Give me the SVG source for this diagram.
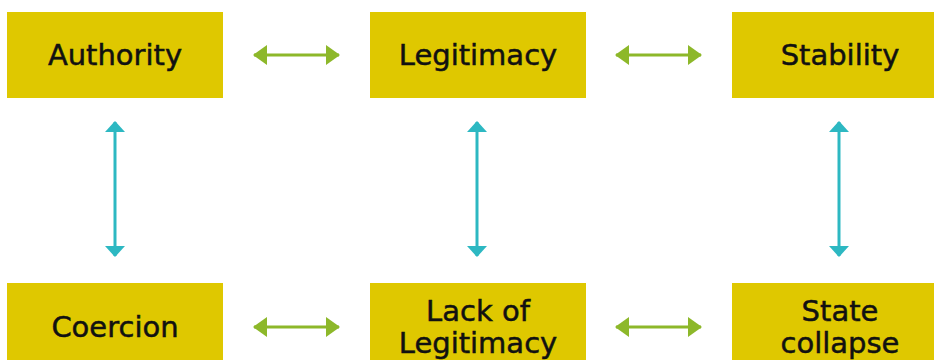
<svg xmlns="http://www.w3.org/2000/svg" width="934" height="360" viewBox="0 0 934 360">
<style>
.box{fill:#DFC800}
.t{font-family:"DejaVu Sans","Open Sans",sans-serif;font-size:29px;fill:#111;stroke:#111;stroke-width:0.5;text-anchor:middle}
.g{stroke:#8DB82A;stroke-width:3;fill:none}
.c{stroke:#2DB8C2;stroke-width:3;fill:none}
</style>
<defs>
<marker id="ag" viewBox="0 0 14 20" refX="13" refY="10" markerWidth="14" markerHeight="20" markerUnits="userSpaceOnUse" orient="auto-start-reverse"><path d="M0,0L14,10L0,20Z" fill="#8DB82A"/></marker>
<marker id="ac" viewBox="0 0 11 20" refX="10" refY="10" markerWidth="11" markerHeight="20" markerUnits="userSpaceOnUse" orient="auto-start-reverse"><path d="M0,0L11,10L0,20Z" fill="#2DB8C2"/></marker>
</defs>
<g id="authority"><rect class="box" x="7" y="12" width="216" height="86"/><text class="t" x="115" y="65">Authority</text></g>
<g id="legitimacy"><rect class="box" x="370" y="12" width="216" height="86"/><text class="t" x="478" y="65">Legitimacy</text></g>
<g id="stability"><rect class="box" x="732" y="12" width="216" height="86"/><text class="t" x="840" y="65">Stability</text></g>
<g id="coercion"><rect class="box" x="7" y="283" width="216" height="86"/><text class="t" x="115" y="337">Coercion</text></g>
<g id="lack"><rect class="box" x="370" y="283" width="216" height="86"/><text class="t" x="478" y="321">Lack of</text><text class="t" x="478" y="353">Legitimacy</text></g>
<g id="collapse"><rect class="box" x="732" y="283" width="216" height="86"/><text class="t" x="840" y="321">State</text><text class="t" x="840" y="353">collapse</text></g>
<g id="connectors">
<line class="g" x1="254" y1="55" x2="339" y2="55" marker-start="url(#ag)" marker-end="url(#ag)"/>
<line class="g" x1="616" y1="55" x2="701" y2="55" marker-start="url(#ag)" marker-end="url(#ag)"/>
<line class="g" x1="254" y1="327" x2="339" y2="327" marker-start="url(#ag)" marker-end="url(#ag)"/>
<line class="g" x1="616" y1="327" x2="701" y2="327" marker-start="url(#ag)" marker-end="url(#ag)"/>
<line class="c" x1="115" y1="122" x2="115" y2="256" marker-start="url(#ac)" marker-end="url(#ac)"/>
<line class="c" x1="477" y1="122" x2="477" y2="256" marker-start="url(#ac)" marker-end="url(#ac)"/>
<line class="c" x1="839" y1="122" x2="839" y2="256" marker-start="url(#ac)" marker-end="url(#ac)"/>
</g>
</svg>
